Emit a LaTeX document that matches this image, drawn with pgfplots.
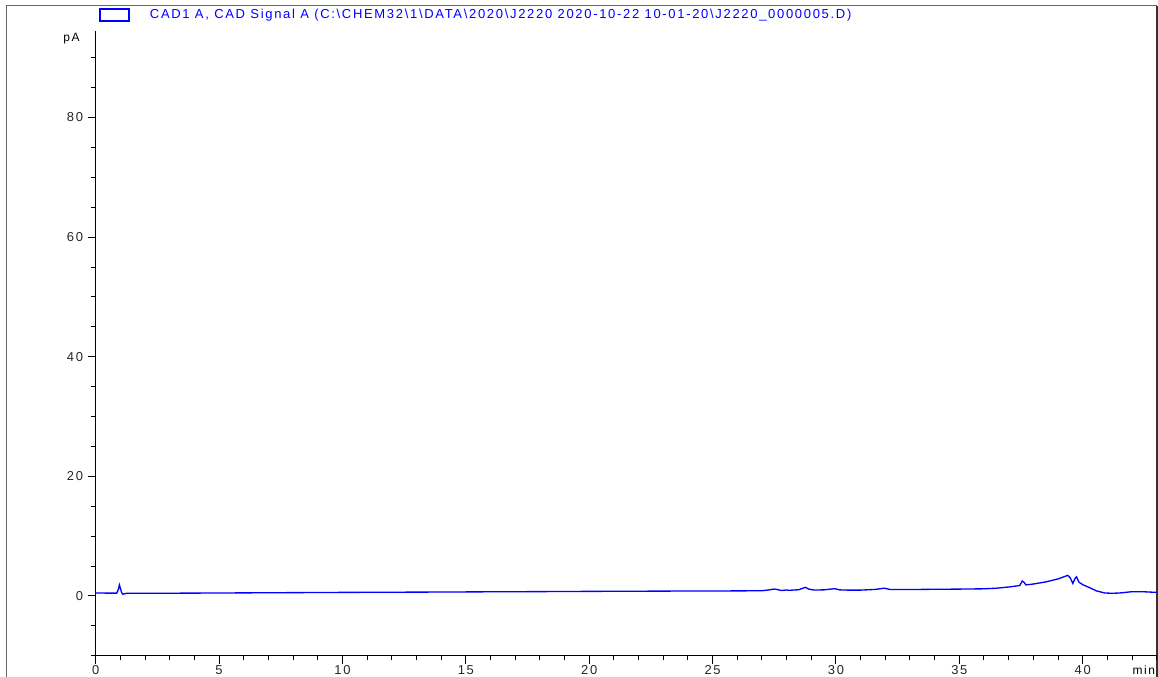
\documentclass[border=0pt]{standalone}
\usepackage{fontspec}
\setmainfont{Liberation Sans}
\newfontfamily\csfont[LetterSpace=13]{Liberation Sans}
\usepackage{pgfplots}
\pgfplotsset{compat=1.18}

% one reference pixel = 0.75pt
\newcommand{\px}[1]{#1*0.75pt}

\begin{document}
\begin{tikzpicture}
\useasboundingbox (0,0) rectangle (868.5pt,507.75pt);
% report frame
\draw[gray!80!black, line width=0.75pt] (\px{6},-2pt) -- (\px{6},\px{671}) -- (\px{1157},\px{671});
\draw[black!80, line width=1pt] (\px{1157},\px{671}) -- (\px{1157},-2pt);

\begin{axis}[
    at={(\px{95.7},\px{21.2})}, anchor=south west,
    scale only axis,
    width=\px{1061}, height=\px{625},
    xmin=0, xmax=43,
    ymin=-10, ymax=94.5,
    axis x line*=bottom,
    axis y line*=left,
    axis line style={black, line width=0.75pt},
    xtick={0,5,...,40},
    minor xtick={0,1,...,43},
    ytick={0,20,...,80},
    minor ytick={-10,-5,...,90},
    tick align=outside,
    major tick length=6pt,
    minor tick length=3.5pt,
    tick style={black, line width=0.75pt},
    /pgf/number format/assume math mode=true,
    ticklabel style={font=\csfont\fontsize{9.7}{10}\selectfont, text=black!85},
    xticklabel style={yshift=2pt},
    xlabel={min},
    xlabel style={at={(rel axis cs:1,0)}, anchor=north east, inner sep=0pt,
        yshift=-7pt, xshift=-1pt, font=\csfont\fontsize{9}{10}\selectfont},
    ylabel={pA},
    ylabel style={at={(rel axis cs:0,1)}, rotate=-90, anchor=east, inner sep=0pt,
        xshift=-11.8pt, yshift=-6.2pt, font=\csfont\fontsize{9}{10}\selectfont},
    legend style={at={(rel axis cs:0,1)}, anchor=west, xshift=2.5pt, yshift=11.8pt,
        draw=none, fill=none, inner sep=0pt,
        nodes={inner sep=0pt, text=blue, font=\csfont\fontsize{9.75}{11}\selectfont}},
    legend image code/.code={
        \draw[draw=blue, line width=1pt, fill=white] (0pt,-4.5pt) rectangle (21.75pt,4.5pt);
        \path[draw=none] (0pt,0pt) -- (37.5pt,0pt);
    },
]
\addplot[color=blue, line width=1pt] coordinates {
(0,0.50) (0.5,0.48) (0.85,0.47) (0.92,1.1) (0.96,1.85) (1.0,1.3) (1.05,0.6)
(1.1,0.3) (1.15,0.35) (1.25,0.45) (2,0.45) (4,0.48) (6,0.52) (8,0.56)
(10,0.60) (12,0.63) (14,0.66) (16,0.70) (18,0.73) (20,0.77) (22,0.80)
(24,0.83) (26,0.85) (27,0.88) (27.35,1.05) (27.5,1.17) (27.65,1.05)
(27.8,0.92) (28.0,1.0) (28.1,0.95) (28.5,1.05) (28.76,1.45) (28.9,1.15)
(29.1,1.0) (29.5,1.02) (29.95,1.22) (30.15,1.02) (30.5,0.98) (31,0.98)
(31.6,1.1) (31.96,1.3) (32.2,1.08) (33,1.08) (34,1.12) (35,1.15) (36,1.2)
(36.5,1.3) (37,1.5) (37.45,1.75) (37.55,2.5) (37.62,2.3) (37.7,1.85)
(38,2.0) (38.5,2.35) (39.0,2.85) (39.4,3.45) (39.5,3.0) (39.6,2.1)
(39.7,3.0) (39.75,3.2) (39.85,2.3) (40.0,1.9) (40.3,1.35) (40.56,0.85)
(40.9,0.5) (41.2,0.45) (41.5,0.5) (42.0,0.72) (42.5,0.7) (43,0.6)
};
\addlegendentry{CAD1 A, CAD Signal A (C:\textbackslash CHEM32\textbackslash 1\textbackslash DATA\textbackslash 2020\textbackslash J2220 2020-10-22 10-01-20\textbackslash J2220\_0000005.D)}
\end{axis}
\end{tikzpicture}
\end{document}
